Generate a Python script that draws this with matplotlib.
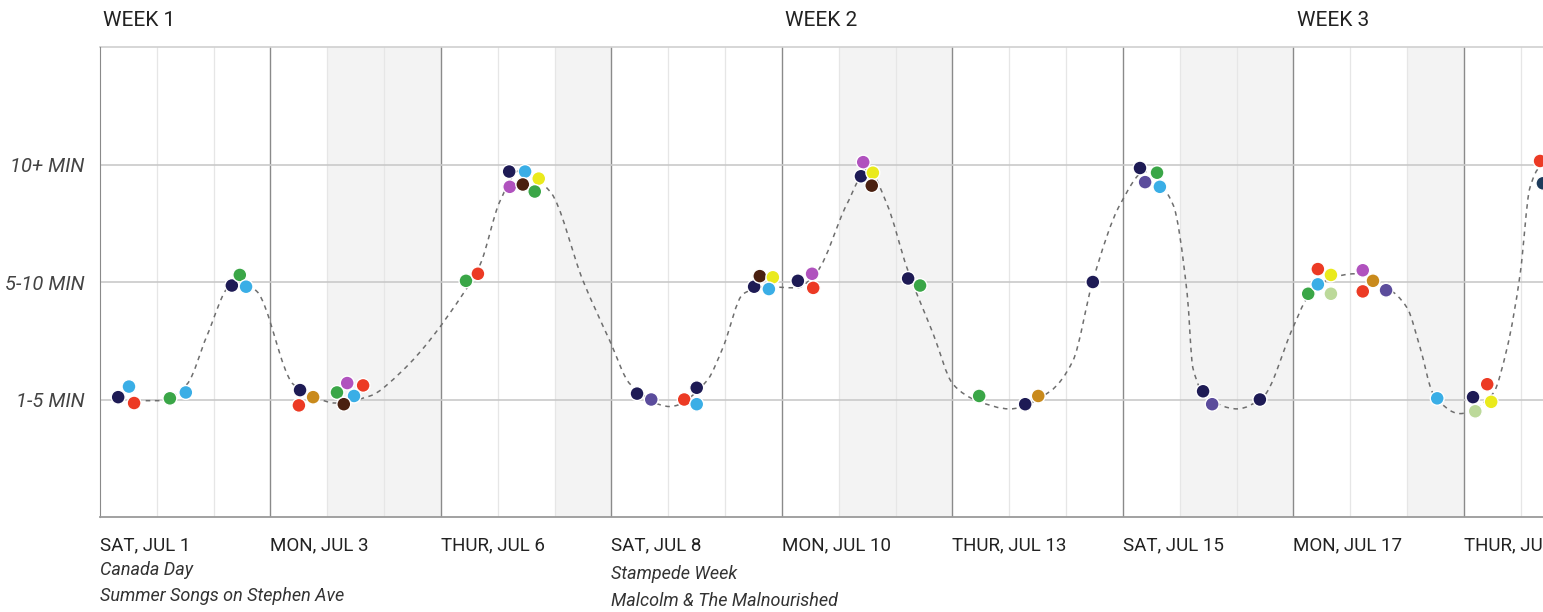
import numpy as np
import matplotlib
matplotlib.use('Agg')
import matplotlib.pyplot as plt
import matplotlib.transforms as mtransforms
from matplotlib.path import Path
from matplotlib.patches import PathPatch

# ---------------------------------------------------------------------------
# Data
# ---------------------------------------------------------------------------
day_ticks = [0, 3, 6, 9, 12, 15, 18, 21, 24]
day_labels = ['SAT, JUL 1', 'MON, JUL 3', 'THUR, JUL 6', 'SAT, JUL 8',
              'MON, JUL 10', 'THUR, JUL 13', 'SAT, JUL 15', 'MON, JUL 17',
              'THUR, JUL 20']

week_starts = [0, 12, 21]
week_labels = ['WEEK 1', 'WEEK 2', 'WEEK 3']

level_ticks = [1, 2, 3]
level_labels = ['1-5 MIN', '5-10 MIN', '10+ MIN']

note_x = [0, 9]
note_titles = ['Canada Day', 'Stampede Week']
note_acts = ['Summer Songs on Stephen Ave', 'Malcolm & The Malnourished']

shaded_start = [4, 8, 13, 19, 23]
shaded_end = [6, 9, 15, 21, 24]

# individual waits
dot_x = [0.32, 0.51, 0.60, 1.23, 1.51,
         2.32, 2.46, 2.57,
         3.52, 3.50, 3.75, 4.17, 4.35, 4.63, 4.47, 4.29,
         6.44, 6.65,
         7.20, 7.48, 7.72, 7.21, 7.44, 7.65,
         9.45, 9.70, 10.28, 10.50, 10.50,
         11.51, 11.61, 11.84, 11.77,
         12.28, 12.53, 12.55,
         13.43, 13.39, 13.60, 13.58,
         14.22, 14.43,
         15.47, 16.28, 16.51,
         17.47,
         18.30, 18.60, 18.39, 18.65,
         19.41, 19.57, 20.41,
         21.26, 21.43, 21.43, 21.66, 21.66, 22.22, 22.22, 22.40, 22.63,
         23.53, 24.16, 24.41, 24.20, 24.48,
         25.34, 25.39]
dot_y = [1.02, 1.11, 0.97, 1.01, 1.06,
         1.97, 2.06, 1.96,
         1.08, 0.95, 1.02, 1.06, 1.14, 1.12, 1.03, 0.96,
         2.01, 2.07,
         2.94, 2.94, 2.88, 2.81, 2.83, 2.77,
         1.05, 1.00, 1.00, 1.10, 0.96,
         1.96, 2.05, 2.04, 1.94,
         2.01, 2.07, 1.95,
         3.02, 2.90, 2.93, 2.82,
         2.03, 1.97,
         1.03, 0.96, 1.03,
         2.00,
         2.97, 2.93, 2.85, 2.81,
         1.07, 0.96, 1.00,
         1.90, 2.11, 1.98, 2.06, 1.90, 2.10, 1.92, 2.01, 1.93,
         1.01, 1.02, 1.13, 0.90, 0.98,
         3.03, 2.84]
dot_kind = ['navy', 'sky', 'red', 'green', 'sky',
            'navy', 'green', 'sky',
            'navy', 'red', 'gold', 'green', 'orchid', 'red', 'sky', 'brown',
            'green', 'red',
            'navy', 'sky', 'yellow', 'orchid', 'brown', 'green',
            'navy', 'slate', 'red', 'navy', 'sky',
            'navy', 'brown', 'yellow', 'sky',
            'navy', 'orchid', 'red',
            'orchid', 'navy', 'yellow', 'brown',
            'navy', 'green',
            'green', 'navy', 'gold',
            'navy',
            'navy', 'green', 'slate', 'sky',
            'navy', 'slate', 'navy',
            'green', 'red', 'sky', 'yellow', 'pale', 'orchid', 'red', 'gold', 'slate',
            'sky', 'navy', 'red', 'pale', 'yellow',
            'red', 'teal']

# trend line knots
curve_x = [0.32, 1.06, 1.53, 1.88, 2.29, 2.50, 2.76, 3.40, 3.82, 4.14, 4.75,
           5.31, 6.39, 6.69, 7.04, 7.39, 7.92, 8.50, 8.97, 9.33, 10.03,
           10.68, 10.96, 11.32, 11.70, 12.26, 12.62, 13.14, 13.51, 13.85,
           14.20, 14.66, 15.01, 15.43, 16.01, 16.72, 17.12, 17.47, 17.95,
           18.39, 18.88, 19.13, 19.23, 19.48, 20.01, 20.46, 20.99, 21.24,
           21.70, 22.08, 22.65, 23.00, 23.23, 23.46, 23.93, 24.51, 24.76,
           24.99, 25.16, 25.34, 25.69]
curve_y = [0.99, 0.99, 1.13, 1.54, 1.97, 2.00, 1.92, 1.13, 1.01, 0.97, 1.03,
           1.24, 1.90, 2.15, 2.69, 2.95, 2.77, 2.01, 1.50, 1.13, 0.94,
           1.16, 1.44, 1.90, 1.96, 1.95, 2.09, 2.66, 2.96, 2.66,
           2.12, 1.56, 1.13, 0.99, 0.92, 1.07, 1.33, 2.01, 2.66,
           2.94, 2.66, 1.90, 1.27, 1.02, 0.92, 1.02, 1.61, 1.86,
           2.04, 2.07, 1.95, 1.78, 1.44, 1.05, 0.88, 1.05, 1.44,
           2.07, 2.80, 2.98, 3.03]

palette = {
    'navy': '#1e1b55', 'sky': '#3aaee6', 'red': '#ec3a24', 'green': '#3aa647',
    'orchid': '#b052be', 'brown': '#4a2010', 'yellow': '#eaea1c',
    'gold': '#c98a1c', 'slate': '#5b4c9c', 'pale': '#bcd99a', 'teal': '#1d3b5c',
}

# ---------------------------------------------------------------------------
# Smooth trend line: monotone cubic (Fritsch-Carlson) segments as Bezier path
# ---------------------------------------------------------------------------
cx = np.asarray(curve_x)
cy = np.asarray(curve_y)
h = np.diff(cx)
d = np.diff(cy) / h
m = np.zeros_like(cy)
m[0], m[-1] = d[0], d[-1]
for k in range(1, len(cx) - 1):
    if d[k - 1] * d[k] > 0:
        w1 = 2 * h[k] + h[k - 1]
        w2 = h[k] + 2 * h[k - 1]
        m[k] = (w1 + w2) / (w1 / d[k - 1] + w2 / d[k])

verts = [(cx[0], cy[0])]
codes = [Path.MOVETO]
for k in range(len(cx) - 1):
    verts += [(cx[k] + h[k] / 3, cy[k] + m[k] * h[k] / 3),
              (cx[k + 1] - h[k] / 3, cy[k + 1] - m[k + 1] * h[k] / 3),
              (cx[k + 1], cy[k + 1])]
    codes += [Path.CURVE4] * 3

# ---------------------------------------------------------------------------
# Figure
# ---------------------------------------------------------------------------
plt.rcParams['font.family'] = ['Roboto', 'DejaVu Sans']

fig = plt.figure(figsize=(15.43, 6.12), dpi=100)
ax = fig.add_axes([100 / 1543, 1 - 517 / 612, 1 - 100 / 1543, 470 / 612])
ax.set_xlim(0, 1443 / 56.83)
ax.set_ylim(0, 4)

for x0, x1 in zip(shaded_start, shaded_end):
    ax.axvspan(x0, x1, color='#f3f3f3', lw=0, zorder=0)

for x in range(1, 26):
    if x % 3:
        ax.axvline(x, color='#e6e6e6', lw=0.9, zorder=1)
for x in day_ticks[1:]:
    ax.axvline(x, color='#8a8a8a', lw=1.0, zorder=1)
for y in level_ticks:
    ax.axhline(y, color='#c9c9c9', lw=1.2, zorder=1)
ax.axhline(4, color='#d0d0d0', lw=1.2, zorder=1, clip_on=False)

for side in ['top', 'right']:
    ax.spines[side].set_visible(False)
ax.spines['left'].set_color('#8a8a8a')
ax.spines['bottom'].set_color('#9a9a9a')
ax.spines['bottom'].set_linewidth(1.3)

ax.add_patch(PathPatch(Path(verts, codes), facecolor='none', edgecolor='#6e6e6e',
                       lw=1.1, linestyle=(0, (3, 3)), zorder=3))

ax.scatter(dot_x, dot_y, s=100, c=[palette[k] for k in dot_kind],
           edgecolors='white', linewidths=1.0, zorder=4, clip_on=True)

ax.set_xticks(day_ticks)
ax.set_xticklabels(day_labels, ha='left', fontsize=13.5, color='#222222')
ax.set_yticks(level_ticks)
ax.set_yticklabels(level_labels, fontsize=14.5, color='#444444', style='italic')
ax.tick_params(axis='x', length=0, pad=14)
ax.tick_params(axis='y', length=0, pad=11)

trans = mtransforms.blended_transform_factory(ax.transData, ax.transAxes)
for x, label in zip(week_starts, week_labels):
    ax.text(x + 0.06, 1.057, label, transform=trans, fontsize=15,
            color='#222222', va='center', ha='left')

for x, title, act in zip(note_x, note_titles, note_acts):
    ax.text(x, -0.112 if x == 0 else -0.122, title, transform=trans,
            fontsize=13, style='italic', color='#333333', va='center', ha='left')
    ax.text(x, -0.168 if x == 0 else -0.178, act, transform=trans,
            fontsize=13, style='italic', color='#333333', va='center', ha='left')

plt.savefig('out.png', dpi=100)
